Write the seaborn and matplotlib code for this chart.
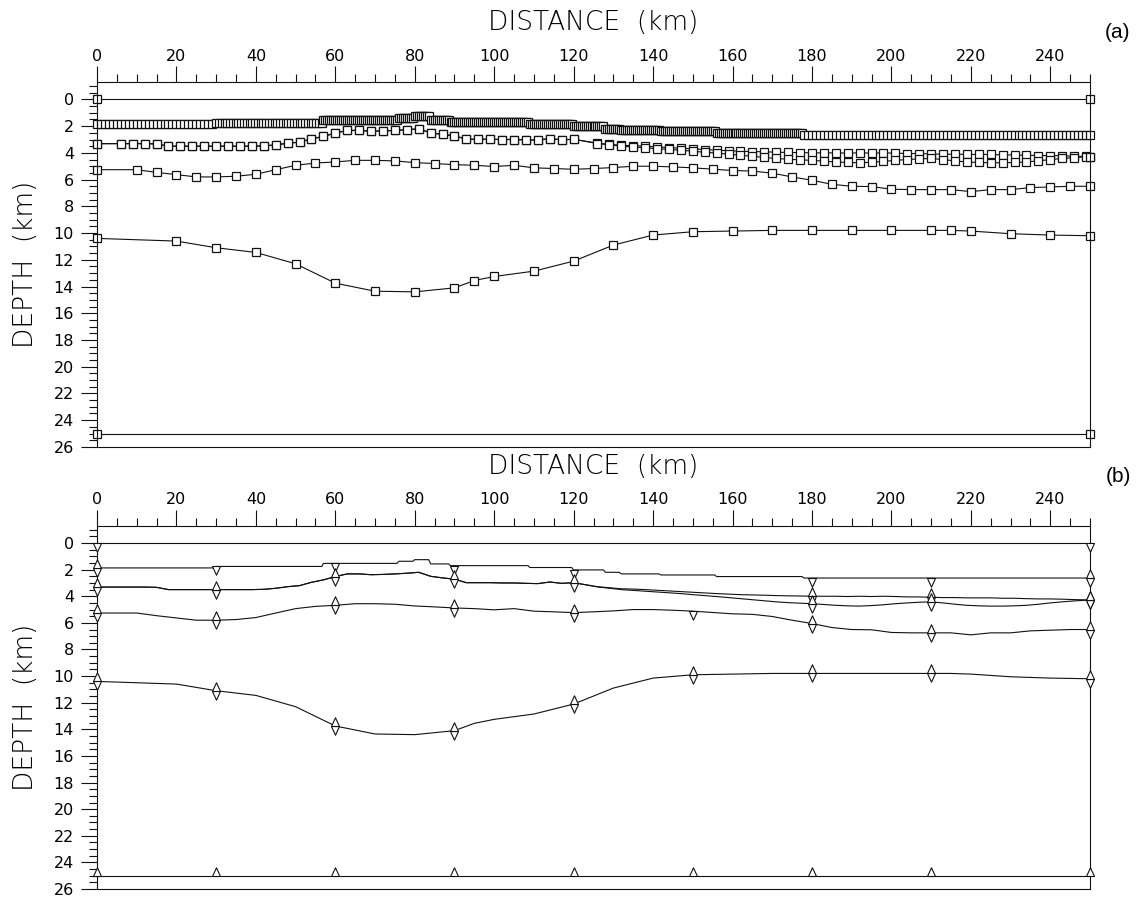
import numpy as np
import matplotlib
matplotlib.use("Agg")
import matplotlib.pyplot as plt
from matplotlib.path import Path
from matplotlib.ticker import MultipleLocator
from matplotlib.font_manager import FontProperties
import seaborn as sns

# ------------------------------------------------------------------
# Layer boundaries of the velocity model: distance (km) / depth (km)
# ------------------------------------------------------------------
surface_depth = 0.0
surface_x = [0, 250]

# Boundary 2 is densely sampled: runs of nodes at one depth
b2_run_start = [0, 30, 57, 76, 80, 84, 89, 109, 120, 128, 132, 142, 156, 178]
b2_run_depth = [1.87, 1.76, 1.53, 1.37, 1.25, 1.57, 1.70, 1.84, 2.02, 2.20,
                2.32, 2.40, 2.52, 2.63]
b2_run_step = [1.0, 0.7, 0.5, 0.5, 0.5, 0.5, 0.5, 0.5, 0.5, 0.5,
               0.5, 0.5, 0.5, 1.0]
b2_last_x = 250

# Boundary 3 (upper) and its lower branch 3b; they coincide west of 123 km
b3_x = [0, 6, 9, 12, 15, 18, 21, 24, 27, 30, 33, 36, 39, 42, 45, 48, 51, 54,
        57, 60, 63, 66, 69, 72, 75, 78, 81, 84, 87, 90, 93, 96, 99, 102, 105,
        108, 111, 114, 117, 120, 126, 129, 132, 135, 138, 141, 144, 147, 150,
        153, 156, 159, 162, 165, 168, 171, 174, 177, 180, 183, 186, 189, 192,
        195, 198, 201, 204, 207, 210, 213, 216, 219, 222, 225, 228, 231, 234,
        237, 240, 243, 246, 249, 250]
b3_z = [3.31, 3.31, 3.31, 3.31, 3.33, 3.50, 3.50, 3.50, 3.50, 3.50, 3.50,
        3.50, 3.50, 3.48, 3.40, 3.28, 3.20, 2.95, 2.77, 2.52, 2.32, 2.32,
        2.38, 2.36, 2.32, 2.27, 2.20, 2.50, 2.62, 2.72, 2.98, 2.98, 2.98,
        3.00, 3.00, 3.03, 3.05, 2.93, 3.03, 2.98, 3.28, 3.36, 3.44, 3.46,
        3.50, 3.55, 3.60, 3.65, 3.70, 3.75, 3.80, 3.84, 3.88, 3.90, 3.92,
        3.95, 3.97, 3.98, 4.00, 4.00, 4.00, 4.02, 4.00, 4.02, 4.00, 4.02,
        4.05, 4.05, 4.08, 4.10, 4.10, 4.12, 4.12, 4.12, 4.15, 4.15, 4.18,
        4.20, 4.20, 4.22, 4.25, 4.27, 4.28]
b3b_z = [3.31, 3.31, 3.31, 3.31, 3.33, 3.50, 3.50, 3.50, 3.50, 3.50, 3.50,
         3.50, 3.50, 3.48, 3.40, 3.28, 3.20, 2.95, 2.77, 2.52, 2.32, 2.32,
         2.38, 2.36, 2.32, 2.27, 2.20, 2.50, 2.62, 2.72, 2.98, 2.98, 2.98,
         3.00, 3.00, 3.03, 3.05, 2.93, 3.03, 2.98, 3.30, 3.40, 3.50, 3.56,
         3.62, 3.68, 3.74, 3.80, 3.88, 3.95, 4.02, 4.10, 4.18, 4.26, 4.34,
         4.42, 4.48, 4.52, 4.56, 4.62, 4.68, 4.72, 4.74, 4.70, 4.64, 4.56,
         4.50, 4.45, 4.42, 4.50, 4.60, 4.68, 4.72, 4.74, 4.74, 4.72, 4.68,
         4.60, 4.50, 4.42, 4.35, 4.30, 4.28]

b4_x = [0, 10, 15, 20, 25, 30, 35, 40, 45, 50, 55, 60, 65, 70, 75, 80, 85,
        90, 95, 100, 105, 110, 115, 120, 125, 130, 135, 140, 145, 150, 155,
        160, 165, 170, 175, 180, 185, 190, 195, 200, 205, 210, 215, 220, 225,
        230, 235, 240, 245, 250]
b4_z = [5.26, 5.26, 5.46, 5.63, 5.80, 5.80, 5.75, 5.60, 5.26, 4.93, 4.76,
        4.68, 4.56, 4.56, 4.60, 4.73, 4.80, 4.88, 4.93, 5.02, 4.93, 5.12,
        5.17, 5.23, 5.17, 5.10, 5.00, 5.00, 5.05, 5.12, 5.22, 5.32, 5.36,
        5.52, 5.80, 6.05, 6.35, 6.50, 6.52, 6.72, 6.75, 6.75, 6.75, 6.90,
        6.75, 6.75, 6.60, 6.55, 6.50, 6.50]

b5_x = [0, 20, 30, 40, 50, 60, 70, 80, 90, 95, 100, 110, 120, 130, 140, 150,
        160, 170, 180, 190, 200, 210, 215, 220, 230, 240, 250]
b5_z = [10.40, 10.60, 11.10, 11.45, 12.30, 13.75, 14.35, 14.40, 14.10, 13.55,
        13.25, 12.85, 12.10, 10.90, 10.15, 9.90, 9.85, 9.80, 9.80, 9.80, 9.80,
        9.80, 9.80, 9.85, 10.05, 10.15, 10.20]

basement_depth = 25.0
basement_x = [0, 250]

# Velocity nodes (distance, km): layer tops sit just below a boundary,
# layer bottoms just above it
vtop_surface = [0, 250]
vtop_b2 = [0, 30, 60, 90, 120, 180, 210, 250]
vtop_b3 = [0, 30, 60, 90, 120, 180, 210, 250]
vtop_b3b = [180, 210, 250]
vtop_b4 = [0, 30, 60, 90, 120, 150, 180, 210, 250]
vtop_b5 = [0, 30, 60, 90, 120, 150, 180, 210, 250]

vbot_b2 = [0, 250]
vbot_b3 = [0, 30, 60, 90, 120, 180, 210, 250]
vbot_b3b = [180, 210, 250]
vbot_b4 = [0, 30, 60, 90, 120, 180, 210, 250]
vbot_b5 = [0, 30, 60, 90, 120, 150, 180, 210, 250]
vbot_basement = [0, 30, 60, 90, 120, 150, 180, 210, 250]

# ------------------------------------------------------------------
# Expand the densely sampled boundary 2 into its nodes
# ------------------------------------------------------------------
b2_x, b2_z = [], []
for start, stop, step, depth in zip(b2_run_start, b2_run_start[1:] + [b2_last_x],
                                    b2_run_step, b2_run_depth):
    xs = np.arange(start, stop, step)
    b2_x.extend(xs.tolist())
    b2_z.extend([depth] * len(xs))
b2_x.append(b2_last_x)
b2_z.append(b2_run_depth[-1])


def b2_depth_at(xs):
    idx = np.searchsorted(b2_run_start, xs, side="right") - 1
    return [b2_run_depth[i] for i in idx]


def node_depth(bx, bz, xs):
    table = dict(zip(bx, bz))
    return [table[x] for x in xs]


def flat(depth, xs):
    return [depth] * len(xs)


boundaries = [
    (surface_x, flat(surface_depth, surface_x)),
    (b2_x, b2_z),
    (b3_x, b3_z),
    (b3_x, b3b_z),
    (b4_x, b4_z),
    (b5_x, b5_z),
    (basement_x, flat(basement_depth, basement_x)),
]

tops = [
    (vtop_surface, flat(surface_depth, vtop_surface)),
    (vtop_b2, b2_depth_at(vtop_b2)),
    (vtop_b3, node_depth(b3_x, b3_z, vtop_b3)),
    (vtop_b3b, node_depth(b3_x, b3b_z, vtop_b3b)),
    (vtop_b4, node_depth(b4_x, b4_z, vtop_b4)),
    (vtop_b5, node_depth(b5_x, b5_z, vtop_b5)),
]
bottoms = [
    (vbot_b2, b2_depth_at(vbot_b2)),
    (vbot_b3, node_depth(b3_x, b3_z, vbot_b3)),
    (vbot_b3b, node_depth(b3_x, b3b_z, vbot_b3b)),
    (vbot_b4, node_depth(b4_x, b4_z, vbot_b4)),
    (vbot_b5, node_depth(b5_x, b5_z, vbot_b5)),
    (vbot_basement, flat(basement_depth, vbot_basement)),
]

# ------------------------------------------------------------------
# Styling
# ------------------------------------------------------------------
sns.set_style("ticks")
INK = "#111111"
plt.rcParams.update({
    "font.family": ["DejaVu Sans"],
    "axes.edgecolor": INK,
    "axes.linewidth": 0.8,
    "xtick.color": INK,
    "ytick.color": INK,
    "text.color": INK,
})
LABEL_FONT = dict(family="DejaVu Sans", size=19, weight=200)
TICK_FONT = dict(family="DejaVu Sans", size=11.5, weight="normal")

# narrow triangles whose flat side sits on the boundary
tri_down = Path([(-0.46, 0.0), (0.46, 0.0), (0.0, -1.0), (-0.46, 0.0)],
                [Path.MOVETO, Path.LINETO, Path.LINETO, Path.CLOSEPOLY])
tri_up = Path([(-0.46, 0.0), (0.46, 0.0), (0.0, 1.0), (-0.46, 0.0)],
              [Path.MOVETO, Path.LINETO, Path.LINETO, Path.CLOSEPOLY])

W, H = 1144, 898
fig = plt.figure(figsize=(W / 100, H / 100), dpi=100)
fig.patch.set_facecolor("white")

ax_a = fig.add_axes([97 / W, 1 - 446.9 / H, 993 / W, 364.6 / H])
ax_b = fig.add_axes([97 / W, 1 - 889.0 / H, 993 / W, 363.0 / H])


def frame(ax):
    ax.set_xlim(0, 250)
    ax.set_ylim(26, -1.28)
    ax.xaxis.set_major_locator(MultipleLocator(20))
    ax.xaxis.set_minor_locator(MultipleLocator(5))
    ax.yaxis.set_major_locator(MultipleLocator(2))
    ax.yaxis.set_minor_locator(MultipleLocator(0.5))
    ax.tick_params(axis="x", which="both", top=True, bottom=False,
                   labeltop=True, labelbottom=False, direction="out",
                   width=0.8, color=INK, labelcolor="#000000")
    ax.tick_params(axis="y", which="both", left=True, right=False,
                   direction="out", width=0.8, color=INK, labelcolor="#000000")
    ax.tick_params(axis="x", which="major", length=11.5, pad=2)
    ax.tick_params(axis="x", which="minor", length=5.8)
    ax.tick_params(axis="y", which="major", length=11.5, pad=5)
    ax.tick_params(axis="y", which="minor", length=5.8)
    for lab in ax.get_xticklabels() + ax.get_yticklabels():
        lab.set_fontproperties(FontProperties(**TICK_FONT))
    for s in ax.spines.values():
        s.set_visible(True)
        s.set_color(INK)
        s.set_linewidth(0.8)
    ax.xaxis.set_label_position("top")
    ax.set_xlabel("DISTANCE  (km)", fontdict=LABEL_FONT, color="#000000")
    ax.set_ylabel("DEPTH  (km)", fontdict=LABEL_FONT, color="#000000")
    ax.xaxis.set_label_coords(0.5, 1.163)
    ax.xaxis.label.set_verticalalignment("center")
    ax.yaxis.set_label_coords(-0.0725, 0.5)
    ax.yaxis.label.set_verticalalignment("center")
    ax.yaxis.label.set_horizontalalignment("center")
    ax.set_facecolor("white")


# Panel (a): boundary nodes
for bx, bz in boundaries:
    sns.lineplot(x=bx, y=bz, ax=ax_a, estimator=None, sort=False, color=INK,
                 linewidth=0.8, marker="s", markersize=5.5,
                 markerfacecolor="white", markeredgecolor=INK,
                 markeredgewidth=0.9, clip_on=False, legend=False)

# Panel (b): boundaries with velocity nodes
for bx, bz in boundaries:
    sns.lineplot(x=bx, y=bz, ax=ax_b, estimator=None, sort=False, color=INK,
                 linewidth=0.8, clip_on=False, legend=False)
for vx, vz in tops:
    sns.scatterplot(x=vx, y=vz, ax=ax_b, marker=tri_down, s=157, color="white",
                    edgecolor=INK, linewidth=0.8, clip_on=False, zorder=4,
                    legend=False)
for vx, vz in bottoms:
    sns.scatterplot(x=vx, y=vz, ax=ax_b, marker=tri_up, s=157, color="white",
                    edgecolor=INK, linewidth=0.8, clip_on=False, zorder=4,
                    legend=False)

frame(ax_a)
frame(ax_b)

fig.text(1118 / W, 1 - 32 / H, "(a)", ha="center", va="center",
         family="Liberation Sans", size=15, color="#000000")
fig.text(1118 / W, 1 - 476 / H, "(b)", ha="center", va="center",
         family="Liberation Sans", size=15, color="#000000")

fig.savefig("out.png", dpi=100, facecolor="white")
